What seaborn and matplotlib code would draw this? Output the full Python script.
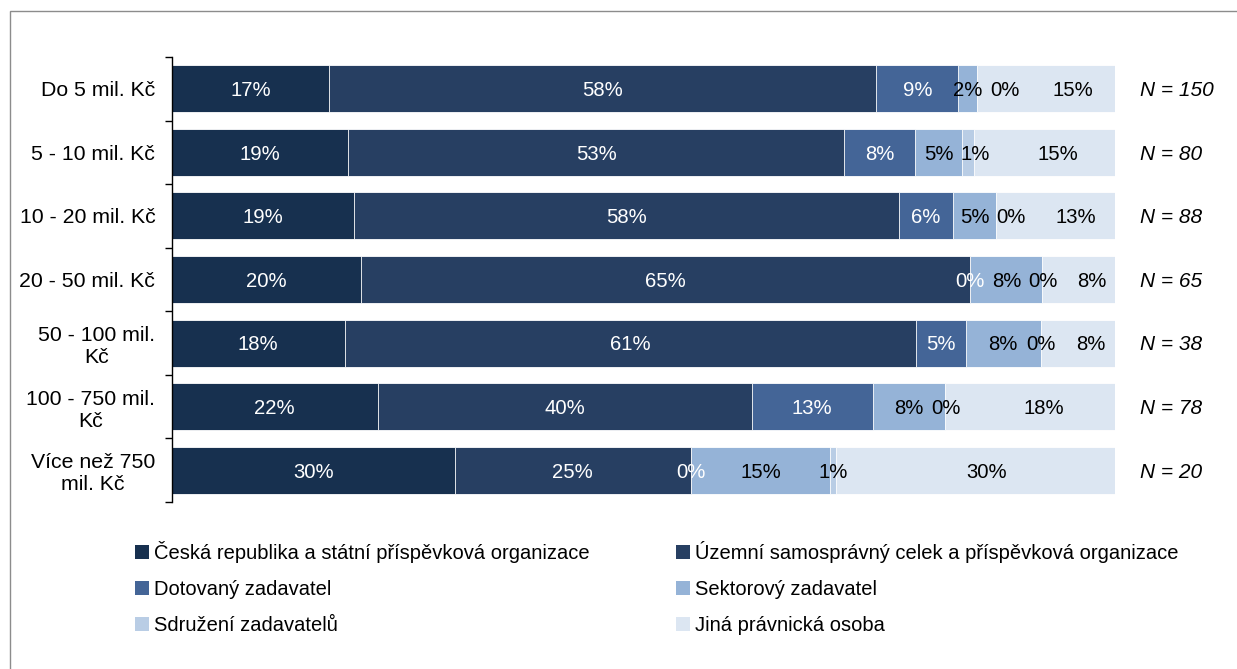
import numpy as np
import pandas as pd
import matplotlib
matplotlib.use("Agg")
import matplotlib.pyplot as plt
import seaborn as sns
from matplotlib.patches import Patch, Rectangle

# data (share in % per contract value band)
categories = ["Do 5 mil. Kč", "5 - 10 mil. Kč", "10 - 20 mil. Kč", "20 - 50 mil. Kč",
              "50 - 100 mil.\nKč", "100 - 750 mil.\nKč", "Více než 750\nmil. Kč"]
n_counts = [150, 80, 88, 65, 38, 78, 20]

ceska = [16.7, 18.7, 19.3, 20.0, 18.3, 21.8, 30.0]
uzemni = [58.0, 52.6, 57.8, 64.6, 60.6, 39.7, 25.0]
dotovany = [8.7, 7.5, 5.7, 0.0, 5.3, 12.8, 0.0]
sektorovy = [2.0, 5.0, 4.6, 7.7, 7.9, 7.7, 14.8]
sdruzeni = [0.0, 1.2, 0.0, 0.0, 0.0, 0.0, 0.6]
jina = [14.6, 15.0, 12.6, 7.7, 7.9, 18.0, 29.6]

series_names = ["Česká republika a státní příspěvková organizace",
                "Územní samosprávný celek a příspěvková organizace",
                "Dotovaný zadavatel",
                "Sektorový zadavatel",
                "Sdružení zadavatelů",
                "Jiná právnická osoba"]
colors = ["#17304f", "#273f62", "#446597", "#95b3d7", "#b9cde5", "#dce6f2"]
text_colors = ["white", "white", "white", "black", "black", "black"]

series = [ceska, uzemni, dotovany, sektorovy, sdruzeni, jina]

sns.set_theme(style="white")
plt.rcParams["font.family"] = ["Liberation Sans", "DejaVu Sans"]
plt.rcParams["text.color"] = "black"

fig = plt.figure(figsize=(12.37, 6.69), dpi=100)
ax = fig.add_axes([172 / 1237, 1 - 502 / 669, 943 / 1237, 445 / 669])

# stacked bars: draw cumulative totals from the widest to the narrowest
cum = np.cumsum(np.array(series), axis=0)
for k in range(len(series) - 1, -1, -1):
    sns.barplot(x=cum[k], y=categories, orient="h", color=colors[k], saturation=1,
                width=0.74, edgecolor="white", linewidth=0.6, ax=ax)

ax.set_xlim(0, 100)
ax.set_ylim(6.5, -0.5)
ax.set_xlabel("")
ax.set_ylabel("")
ax.set_xticks([])
sns.despine(ax=ax, top=True, right=True, bottom=True)
ax.spines["left"].set_color("black")
ax.spines["left"].set_linewidth(1)

ax.set_yticks(np.arange(-0.5, 7), minor=True)
ax.tick_params(axis="y", which="major", length=0, pad=12, labelsize=15.3, labelcolor="black")
ax.tick_params(axis="y", which="minor", length=5, width=1, color="black", direction="out", left=True)
for lbl in ax.get_yticklabels():
    lbl.set_multialignment("center")

# percentage labels, nudged right when they would overlap the previous one
for i in range(len(categories)):
    left = 0.0
    prev_right = -100.0
    for k, s in enumerate(series):
        v = s[i]
        txt = f"{int(v + 0.5)}%"
        half = ((len(txt) - 1) * 1.2 + 1.9) / 2
        center = left + v / 2
        if k == len(series) - 1:
            center = max(center, (prev_right + 100) / 2 + 0.6)
        elif center - half < prev_right + 0.8:
            center = prev_right + 0.8 + half
        ax.text(center, i + 0.03, txt, ha="center", va="center", fontsize=14.6, color=text_colors[k])
        prev_right = center + half
        left += v
    ax.text(102.7, i + 0.03, f"N = {n_counts[i]}", ha="left", va="center", fontsize=15,
            style="italic", color="black", clip_on=False)

# legend in two columns, row-wise order like the original
handles = [Patch(facecolor=c, edgecolor="none") for c in colors]
leg_kw = dict(loc="upper left", frameon=False, handlelength=0.7, handleheight=0.7,
              handletextpad=0.25, labelspacing=0.85, fontsize=14.5, borderaxespad=0, borderpad=0,
              labelcolor="black")
fig.legend([handles[k] for k in (0, 2, 4)], [series_names[k] for k in (0, 2, 4)],
           bbox_to_anchor=(135 / 1237, 1 - 541 / 669), **leg_kw)
fig.legend([handles[k] for k in (1, 3, 5)], [series_names[k] for k in (1, 3, 5)],
           bbox_to_anchor=(676 / 1237, 1 - 541 / 669), **leg_kw)

# outer frame of the chart area
fig.add_artist(Rectangle((9.5 / 1237, -0.05), 1.2, 1 - 11 / 669 + 0.05, transform=fig.transFigure,
                         fill=False, edgecolor="#8c8c8c", linewidth=1))

fig.savefig("out.png", dpi=100)
